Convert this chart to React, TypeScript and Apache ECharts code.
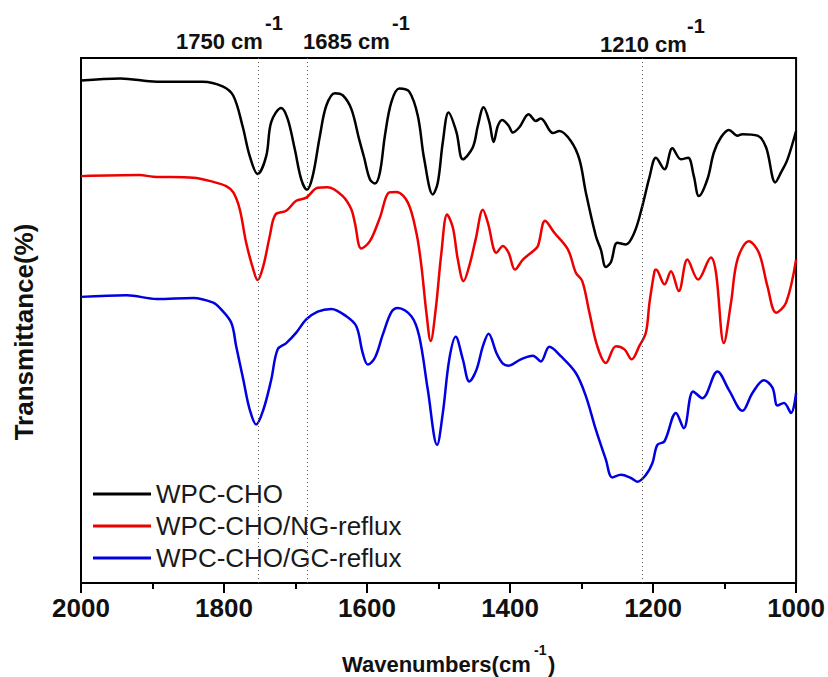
import React, { useEffect, useRef } from "react";
import * as echarts from "echarts";

// Wavenumber (cm-1), transmittance (arbitrary, offset units)
const wpcCho: [number, number][] = [
  [2000, 95.7], [1945, 96.1], [1894, 95.5], [1830, 95.5], [1802, 94.6], [1787, 92.8],
  [1774, 87.0], [1764, 81.3], [1753, 77.9], [1741, 81.3], [1734, 87.8], [1720, 90.5],
  [1711, 88.4], [1701, 82.6], [1692, 76.9], [1684, 74.9], [1676, 77.5], [1666, 85.1],
  [1657, 90.9], [1645, 93.3], [1634, 92.9], [1622, 90.3], [1611, 84.5], [1604, 81.0],
  [1596, 76.9], [1589, 76.1], [1582, 78.2], [1575, 85.2], [1566, 91.6], [1555, 94.2],
  [1541, 93.6], [1529, 89.0], [1520, 80.7], [1508, 74.0], [1501, 76.3], [1494, 84.0],
  [1486, 89.6], [1475, 85.9], [1466, 80.7], [1452, 83.0], [1445, 87.1], [1437, 90.6],
  [1429, 87.8], [1423, 84.0], [1417, 87.1], [1411, 88.2], [1402, 87.1], [1396, 85.8],
  [1387, 86.8], [1374, 89.3], [1364, 88.0], [1357, 88.5], [1340, 85.7], [1331, 86.1],
  [1315, 84.2], [1303, 80.7], [1294, 74.4], [1280, 66.1], [1273, 63.5], [1266, 60.2],
  [1259, 61.1], [1250, 64.8], [1238, 64.5], [1226, 66.8], [1215, 71.8], [1205, 77.3],
  [1196, 81.0], [1184, 78.8], [1173, 82.8], [1161, 80.7], [1151, 81.0], [1143, 77.5],
  [1136, 73.7], [1124, 76.9], [1115, 82.0], [1105, 84.9], [1094, 86.3], [1082, 85.2],
  [1075, 85.5], [1054, 85.2], [1042, 83.0], [1029, 76.3], [1021, 78.2], [1012, 80.7],
  [1000, 86.1],
];

const wpcChoNg: [number, number][] = [
  [2000, 77.5], [1918, 77.7], [1899, 77.4], [1843, 77.2], [1815, 76.4], [1797, 75.6],
  [1787, 74.4], [1778, 71.2], [1769, 64.8], [1759, 59.7], [1753, 57.7], [1745, 60.4],
  [1736, 66.1], [1728, 70.2], [1713, 70.9], [1699, 72.8], [1685, 73.4], [1669, 75.3],
  [1655, 75.4], [1634, 73.7], [1622, 71.2], [1617, 68.6], [1608, 63.7], [1596, 65.1],
  [1582, 69.6], [1569, 74.4], [1559, 74.5], [1543, 72.5], [1531, 66.7], [1524, 60.4],
  [1517, 51.5], [1511, 46.1], [1504, 52.1], [1496, 62.9], [1488, 70.2], [1480, 67.7],
  [1473, 61.6], [1465, 57.5], [1457, 60.4], [1448, 65.5], [1438, 71.1], [1431, 68.6],
  [1419, 62.9], [1410, 64.2], [1402, 62.9], [1393, 59.7], [1382, 61.6], [1368, 63.2],
  [1361, 64.2], [1351, 69.0], [1338, 66.7], [1319, 63.5], [1308, 59.1], [1299, 57.5],
  [1289, 51.5], [1278, 45.1], [1266, 41.9], [1252, 45.1], [1240, 44.5], [1230, 42.6],
  [1219, 45.2], [1210, 47.7], [1205, 53.4], [1198, 59.4], [1196, 59.7], [1184, 56.9],
  [1175, 59.4], [1164, 55.6], [1152, 61.6], [1137, 57.8], [1119, 62.0], [1112, 59.1],
  [1101, 45.7], [1091, 53.4], [1082, 61.6], [1066, 65.1], [1052, 62.9], [1040, 56.5],
  [1028, 51.5], [1014, 53.4], [1000, 61.6],
];

const wpcChoGc: [number, number][] = [
  [2000, 54.5], [1936, 54.8], [1894, 54.1], [1843, 54.3], [1815, 53.4], [1806, 52.4],
  [1790, 49.6], [1783, 45.1], [1773, 38.7], [1764, 33.0], [1755, 30.2], [1745, 33.0],
  [1734, 38.7], [1725, 44.5], [1713, 45.7], [1699, 47.7], [1685, 50.2], [1669, 51.7],
  [1650, 52.2], [1629, 50.8], [1615, 48.9], [1606, 43.8], [1599, 41.6], [1589, 42.9],
  [1578, 47.3], [1566, 51.6], [1557, 52.4], [1538, 50.8], [1527, 47.0], [1515, 36.8],
  [1502, 26.3], [1494, 32.4], [1485, 42.6], [1476, 46.9], [1466, 42.6], [1457, 38.4],
  [1447, 40.6], [1438, 45.1], [1430, 47.5], [1419, 43.8], [1410, 41.8], [1402, 41.4],
  [1385, 42.6], [1368, 43.3], [1357, 42.2], [1345, 45.0], [1329, 43.2], [1308, 40.0],
  [1294, 35.6], [1280, 29.2], [1266, 23.5], [1257, 20.1], [1245, 20.6], [1231, 20.0],
  [1222, 19.3], [1210, 20.6], [1201, 22.8], [1194, 26.3], [1184, 27.0], [1168, 32.4],
  [1157, 29.5], [1144, 36.5], [1131, 35.2], [1110, 40.3], [1094, 36.8], [1075, 32.8],
  [1061, 36.2], [1045, 38.6], [1033, 37.2], [1026, 33.8], [1017, 34.3], [1007, 32.4],
  [1000, 36.2],
];

const seriesNames = ["WPC-CHO", "WPC-CHO/NG-reflux", "WPC-CHO/GC-reflux"];
const seriesColors = ["#000000", "#ee0000", "#0000e0"];
const peakMarks = [1752, 1684, 1215];
const peakLabels = ["1750 cm", "1685 cm", "1210 cm"];
const xTicks = { min: 1000, max: 2000, interval: 200 };

export default function App() {
  const ref = useRef<HTMLDivElement>(null);
  useEffect(() => {
    document.body.style.margin = "0";
    const chart = echarts.init(ref.current!, null, { renderer: "svg" });
    const datasets = [wpcCho, wpcChoNg, wpcChoGc];
    const font = "Liberation Sans, Arial, sans-serif";
    const labelPos = [
      { x: 176, y: 41, sx: 265, sy: 23 },
      { x: 303, y: 41, sx: 392, sy: 23 },
      { x: 600, y: 44, sx: 687, sy: 26 },
    ];
    chart.setOption({
      animation: false,
      backgroundColor: "#ffffff",
      grid: {
        left: 81, right: 31, top: 58, bottom: 94,
        show: true, borderColor: "#000", borderWidth: 2, backgroundColor: "transparent",
      },
      legend: {
        orient: "vertical",
        left: 93, top: 481, padding: 0,
        itemWidth: 58, itemHeight: 3, itemGap: 6,
        icon: "rect",
        data: seriesNames,
        textStyle: { fontSize: 26, fontFamily: font, color: "#1a1a1a" },
      },
      xAxis: {
        type: "value",
        min: xTicks.min, max: xTicks.max, interval: xTicks.interval,
        inverse: true,
        axisLine: { show: true, lineStyle: { color: "#000", width: 2 } },
        axisTick: { show: true, length: 10, lineStyle: { color: "#000", width: 2 } },
        minorTick: { show: true, splitNumber: 2, length: 6, lineStyle: { color: "#000", width: 2 } },
        splitLine: { show: false },
        axisLabel: {
          fontSize: 26, fontWeight: "bold", fontFamily: font, color: "#111", margin: 12,
          formatter: (v: number) => String(v),
        },
      },
      yAxis: {
        type: "value", min: 0, max: 100,
        axisLine: { show: false }, axisTick: { show: false },
        axisLabel: { show: false }, splitLine: { show: false },
      },
      series: datasets.map((d, i) => ({
        name: seriesNames[i],
        type: "line",
        data: d,
        showSymbol: false,
        smooth: 0.35,
        lineStyle: { color: seriesColors[i], width: 2.5 },
        itemStyle: { color: seriesColors[i] },
        markLine: i === 0 ? {
          silent: true, symbol: "none",
          label: { show: false },
          lineStyle: { type: [1, 3], color: "#555", width: 1 },
          data: peakMarks.map((v) => ({ xAxis: v })),
        } : undefined,
      })),
      graphic: [
        ...peakLabels.flatMap((t, i) => [
          {
            type: "text", x: labelPos[i].x, y: labelPos[i].y,
            style: { text: t, fontSize: 22, fontWeight: "bold", fontFamily: font, fill: "#111", align: "left", verticalAlign: "middle" },
          },
          {
            type: "text", x: labelPos[i].sx, y: labelPos[i].sy,
            style: { text: "-1", fontSize: 20, fontWeight: "bold", fontFamily: font, fill: "#111", align: "left", verticalAlign: "middle" },
          },
        ]),
        {
          type: "text", x: 342, y: 664,
          style: { text: "Wavenumbers(cm", fontSize: 22, fontWeight: "bold", fontFamily: font, fill: "#111", align: "left", verticalAlign: "middle" },
        },
        {
          type: "text", x: 534, y: 650,
          style: { text: "-1", fontSize: 14, fontWeight: "bold", fontFamily: font, fill: "#111", align: "left", verticalAlign: "middle" },
        },
        {
          type: "text", x: 548, y: 664,
          style: { text: ")", fontSize: 22, fontWeight: "bold", fontFamily: font, fill: "#111", align: "left", verticalAlign: "middle" },
        },
        {
          type: "text", x: 24, y: 332, rotation: Math.PI / 2,
          style: { text: "Transmittance(%)", fontSize: 26, fontWeight: "bold", fontFamily: font, fill: "#111", align: "center", verticalAlign: "middle" },
        },
      ],
    });
    return () => chart.dispose();
  }, []);
  return <div ref={ref} style={{ width: 828, height: 677 }} />;
}
